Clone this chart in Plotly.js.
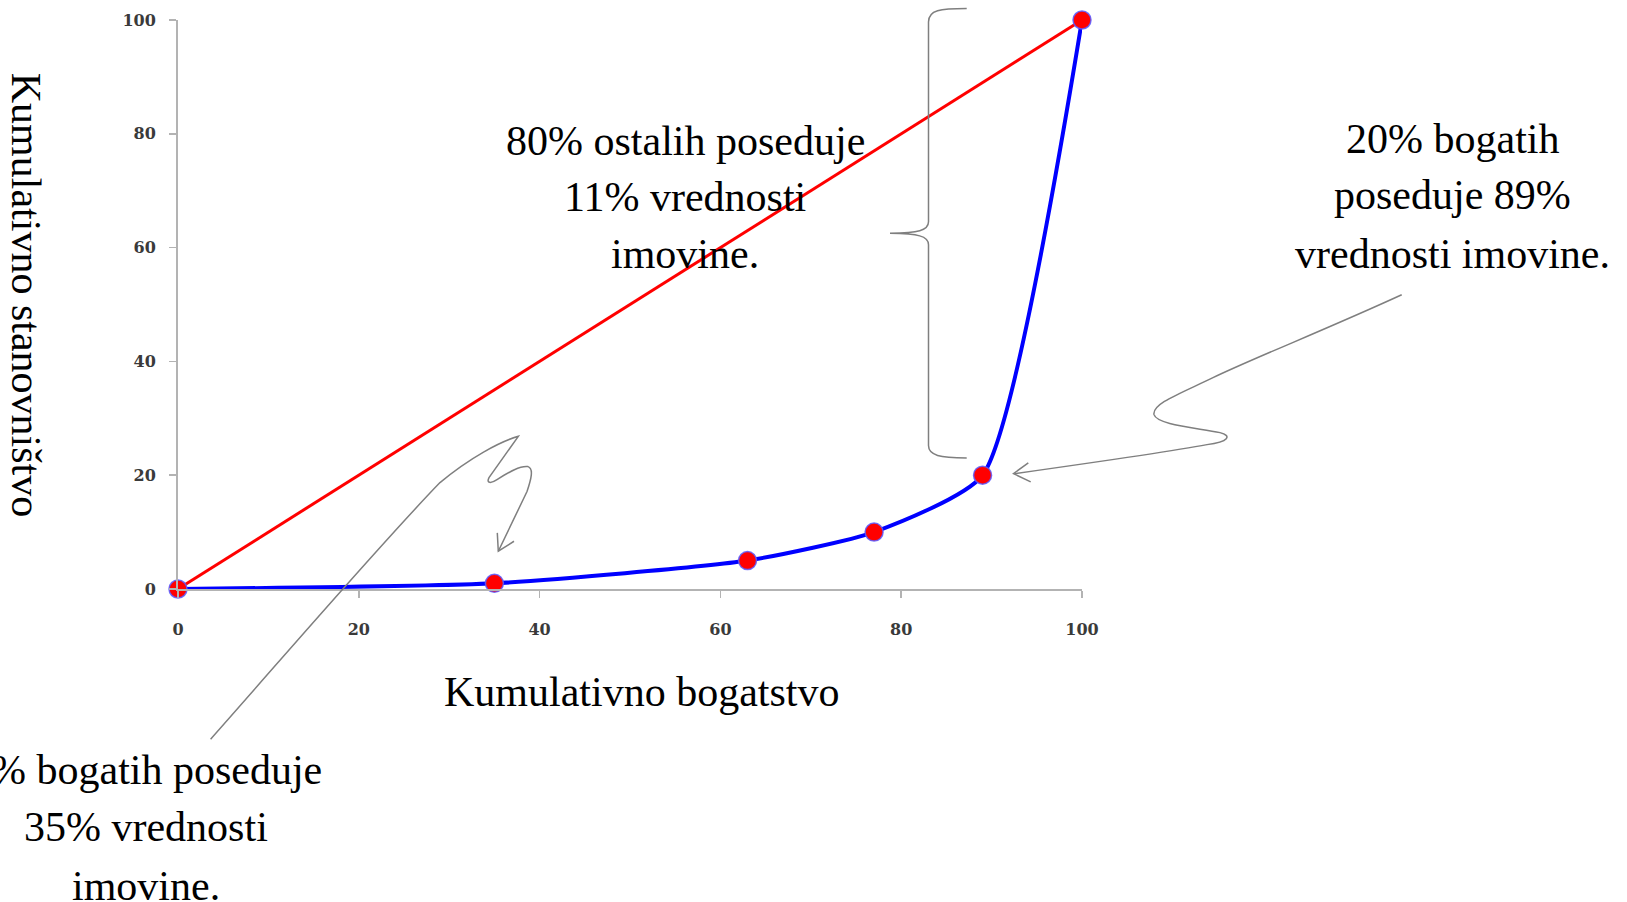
<!DOCTYPE html>
<html>
<head>
<meta charset="utf-8">
<script src="https://cdn.plot.ly/plotly-3.0.1.min.js"></script>
<style>
html,body{margin:0;padding:0;background:#fff;}
#chart{width:1627px;height:902px;}
</style>
</head>
<body>
<div id="chart"></div>
<script>
// ---- data ----
const wealth = [0, 35, 63, 77, 89, 100];          // Kumulativno bogatstvo
const population = [0, 1, 5, 10, 20, 100];       // Kumulativno stanovništvo
const equalityX = [0, 100];
const equalityY = [0, 100];
const tickValues = [0, 20, 40, 60, 80, 100];
const tickLabels = ['0', '20', '40', '60', '80', '100'];

const xTitle = 'Kumulativno bogatstvo';
const yTitle = 'Kumulativno stanovništvo';
const noteMiddle = ['80% ostalih poseduje', '11% vrednosti', 'imovine.'];
const noteRight = ['20% bogatih', 'poseduje 89%', 'vrednosti imovine.'];
const noteLeft = ['1% bogatih poseduje', '35% vrednosti', 'imovine.'];

// ---- layout geometry (pixels) ----
const W = 1627, H = 902;
const L = 178, R = 1082, T = 20, B = 589.5;
const PW = R - L, PH = B - T;
const px = x => (x - L) / PW;
const py = y => (B - y) / PH;
// convert "x,y" pixel pairs in an SVG path to paper coords
function paperPath(s) {
  return s.replace(/(-?\d+(?:\.\d+)?),(-?\d+(?:\.\d+)?)/g,
    (m, a, b) => px(parseFloat(a)).toFixed(5) + ',' + py(parseFloat(b)).toFixed(5));
}

const serif = 'Liberation Serif, Times New Roman, serif';
const textFont = {family: serif, size: 42, color: '#000'};

function lines(arr, cx, baselines) {
  return arr.map((t, i) => ({
    text: t, xref: 'paper', yref: 'paper',
    x: px(cx), y: py(baselines[i] - 13),
    xanchor: 'center', yanchor: 'middle',
    showarrow: false, font: textFont
  }));
}

const annotations = [
  ...lines(noteMiddle, 685, [154, 210, 267]),
  ...lines(noteRight, 1452, [152, 208, 267]),
  ...lines(noteLeft, 146, [784, 841, 900]),
  {text: xTitle, xref: 'paper', yref: 'paper', x: px(641.5), y: py(693),
   xanchor: 'center', yanchor: 'middle', showarrow: false, font: textFont},
  {text: yTitle, xref: 'paper', yref: 'paper', x: px(26), y: py(295),
   xanchor: 'center', yanchor: 'middle', showarrow: false, textangle: 90, font: textFont}
];

const grey = '#7f7f7f';
const shapes = [
  // brace
  {type: 'path', xref: 'paper', yref: 'paper', line: {color: grey, width: 1.5},
   path: paperPath('M 966.7,8.5 C 940,8.5 928.5,10 928.5,22 L 928.5,222 C 928.5,231 918,233 890,233.5 C 918,234 928.5,236 928.5,245 L 928.5,446 C 928.5,456 940,458 966.7,458.3')},
  // right connector
  {type: 'path', xref: 'paper', yref: 'paper', line: {color: grey, width: 1.5},
   path: paperPath('M 1401.7,295 C 1330,328 1250,360 1213,378 C 1180,394 1152,404 1154,415 C 1157,425 1195,428 1220,433 C 1232,436 1229,442 1207,445 C 1170,452 1100,462 1015,474')},
  {type: 'path', xref: 'paper', yref: 'paper', line: {color: grey, width: 1.5},
   path: paperPath('M 1028.3,463.3 L 1013.5,474 L 1030.7,482.3')},
  // left connector
  {type: 'path', xref: 'paper', yref: 'paper', line: {color: grey, width: 1.5},
   path: paperPath('M 210.6,739.8 C 290,650 380,545 440,483 C 470,458 500,442 518.3,436.7 L 489,478 C 486,484 491,484 497,480 C 510,472 520,466 528,467 C 534,469 531,480 527,492 L 498.3,551.7')},
  {type: 'path', xref: 'paper', yref: 'paper', line: {color: grey, width: 1.5},
   path: paperPath('M 497.3,533.3 L 498.3,551.7 L 514,541.7')}
];

const traces = [
  {x: equalityX, y: equalityY, mode: 'lines', line: {color: '#ff0000', width: 3},
   hoverinfo: 'skip', showlegend: false, cliponaxis: false},
  {x: wealth, y: population, mode: 'lines', line: {color: '#0000ff', width: 4, shape: 'spline', smoothing: 0.55},
   hoverinfo: 'skip', showlegend: false, cliponaxis: false},
  {x: wealth, y: population, mode: 'markers',
   marker: {color: '#ff0000', size: 18, line: {color: 'rgba(90,90,255,0.85)', width: 1.5}},
   hoverinfo: 'skip', showlegend: false, cliponaxis: false}
];

const axisCommon = {
  range: [0, 100], showgrid: false, zeroline: false,
  showline: true, linecolor: '#b3b3b3', linewidth: 2,
  ticks: 'outside', ticklen: 7, tickwidth: 1.5, tickcolor: '#b3b3b3',
  tickmode: 'array', tickvals: tickValues, ticktext: tickLabels,
  tickfont: {family: 'DejaVu Serif, serif', size: 16, color: '#3a3a3a', weight: 'bold'},
  fixedrange: true
};

const layout = {
  width: W, height: H,
  margin: {l: L, r: W - R, t: T, b: H - B, pad: 0},
  paper_bgcolor: '#ffffff', plot_bgcolor: '#ffffff',
  showlegend: false,
  xaxis: Object.assign({}, axisCommon, {ticklabelstandoff: 18}),
  yaxis: Object.assign({}, axisCommon, {ticklabelstandoff: 10}),
  annotations: annotations,
  shapes: shapes
};

Plotly.newPlot('chart', traces, layout, {displayModeBar: false, staticPlot: true});
</script>
</body>
</html>
